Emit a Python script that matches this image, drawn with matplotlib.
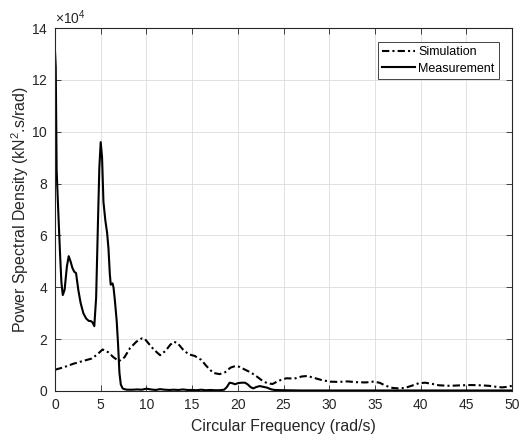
import matplotlib
matplotlib.use("Agg")
import matplotlib.pyplot as plt
from matplotlib.ticker import ScalarFormatter
import numpy as np

plt.rcParams['font.family'] = ['Liberation Sans', 'DejaVu Sans']
plt.rcParams['mathtext.fontset'] = 'custom'
plt.rcParams['mathtext.rm'] = 'Liberation Sans'
plt.rcParams['mathtext.it'] = 'Liberation Sans:italic'
plt.rcParams['mathtext.bf'] = 'Liberation Sans:bold'

# Data (PSD values in units of 1e4 kN^2.s/rad)
meas_x = [0, 0.08, 0.18, 0.35, 0.55, 0.7, 0.85, 1.05, 1.3, 1.5, 1.7, 1.9, 2.1, 2.3, 2.55,
          2.8, 3.1, 3.4, 3.7, 3.9, 4.1, 4.3, 4.5, 4.7, 4.85, 5.0, 5.15, 5.3, 5.5, 5.7,
          5.85, 6.0, 6.1, 6.3, 6.4, 6.55, 6.75, 6.9, 7.05, 7.2, 7.4, 7.6, 7.9, 8.5, 9.0,
          9.5, 10.0, 10.5, 11.0, 11.5, 12.0, 12.5, 13.0, 13.5, 14.0, 14.5, 15.0, 15.5, 16.0, 16.5,
          17.0, 17.5, 18.0, 18.5, 18.8, 19.1, 19.4, 19.7, 20.0, 20.4, 20.8, 21.1, 21.4, 21.7, 22.0,
          22.4, 22.8, 23.2, 23.6, 24.0, 25, 27, 30, 35, 40, 45, 50]
meas_y = [13.1, 12.5, 8.5, 7.0, 5.3, 4.2, 3.7, 3.9, 4.8, 5.2, 5.0, 4.75, 4.6, 4.55, 3.9,
          3.4, 3.0, 2.8, 2.7, 2.7, 2.65, 2.5, 3.6, 6.5, 8.6, 9.6, 9.0, 7.3, 6.6, 6.1,
          5.5, 4.5, 4.1, 4.15, 4.0, 3.5, 2.7, 1.8, 0.7, 0.25, 0.1, 0.07, 0.05, 0.05, 0.06,
          0.05, 0.09, 0.06, 0.04, 0.07, 0.05, 0.04, 0.05, 0.04, 0.06, 0.04, 0.04, 0.03, 0.05, 0.03,
          0.04, 0.03, 0.03, 0.05, 0.15, 0.32, 0.3, 0.26, 0.3, 0.32, 0.32, 0.25, 0.15, 0.1, 0.15,
          0.19, 0.16, 0.13, 0.07, 0.04, 0.03, 0.02, 0.02, 0.02, 0.02, 0.02, 0.02]

sim_x = [0, 1, 2, 3, 4, 4.6, 5.2, 5.8, 6.4, 7.0, 7.6, 8.2, 8.9, 9.5, 9.8,
         10.2, 10.8, 11.5, 12.1, 12.6, 13.0, 13.4, 14.0, 14.6, 15.3, 16.0, 16.6, 17.3, 18.0, 18.6,
         19.2, 19.7, 20.2, 20.8, 21.4, 22.0, 22.6, 23.2, 23.8, 24.5, 25.3, 26.2, 27.0, 27.6, 28.4,
         29.2, 30.1, 31.0, 32.0, 33.0, 34.0, 34.8, 35.5, 36.2, 36.9, 37.6, 38.3, 39.0, 39.8, 40.5,
         41.2, 42.0, 43.2, 44.5, 45.5, 46.5, 47.5, 48.3, 48.9, 49.5, 50.0]
sim_y = [0.82, 0.92, 1.05, 1.15, 1.25, 1.4, 1.6, 1.5, 1.3, 1.15, 1.3, 1.65, 1.9, 2.03, 2.02,
         1.85, 1.6, 1.38, 1.55, 1.78, 1.9, 1.85, 1.6, 1.42, 1.35, 1.2, 0.95, 0.7, 0.65, 0.72,
         0.9, 0.96, 0.93, 0.82, 0.72, 0.58, 0.42, 0.3, 0.27, 0.4, 0.49, 0.48, 0.56, 0.58, 0.5,
         0.42, 0.36, 0.35, 0.37, 0.34, 0.33, 0.36, 0.32, 0.2, 0.12, 0.1, 0.12, 0.2, 0.3, 0.32,
         0.28, 0.22, 0.2, 0.22, 0.23, 0.22, 0.2, 0.16, 0.14, 0.16, 0.2]

scale = 1e4
x_ticks = [0, 5, 10, 15, 20, 25, 30, 35, 40, 45, 50]
y_ticks = [0, 2, 4, 6, 8, 10, 12, 14]

fig = plt.figure(figsize=(5.21, 4.38), dpi=100)
ax = fig.add_axes([55/521, 47/438, 457/521, 363/438])

ax.plot(sim_x, np.array(sim_y) * scale, color='black', lw=1.5,
        linestyle=(0, (3.5, 1.5, 1.0, 1.5)), label='Simulation')
ax.plot(meas_x, np.array(meas_y) * scale, color='black', lw=1.5,
        linestyle='-', label='Measurement')

ax.set_xlim(0, 50)
ax.set_ylim(0, 14e4)
ax.set_xticks(x_ticks)
ax.set_yticks([v * scale for v in y_ticks])

fmt = ScalarFormatter(useMathText=True)
fmt.set_powerlimits((4, 4))
ax.yaxis.set_major_formatter(fmt)

tc = '#262626'
ax.grid(True, color='#dcdcdc', lw=0.6)
ax.set_axisbelow(True)
ax.tick_params(direction='in', top=True, right=True, length=4, width=0.6,
               colors=tc, labelsize=10, pad=5)
for s in ax.spines.values():
    s.set_color(tc)
    s.set_linewidth(0.8)
ax.yaxis.get_offset_text().set_fontsize(10)
ax.yaxis.get_offset_text().set_color(tc)

ax.set_xlabel('Circular Frequency (rad/s)', fontsize=11.4, color=tc, labelpad=5)
ax.set_ylabel('Power Spectral Density (kN$^2$.s/rad)', fontsize=11.4, color=tc, labelpad=0)

leg = ax.legend(loc='upper right', bbox_to_anchor=(0.9716, 0.9614), borderaxespad=0,
                fontsize=9, fancybox=False, framealpha=1, edgecolor='#262626',
                handlelength=2.6, handletextpad=0.3, borderpad=0.35, labelspacing=0.35)
leg.get_frame().set_linewidth(0.6)

fig.savefig('out.png', dpi=100)
